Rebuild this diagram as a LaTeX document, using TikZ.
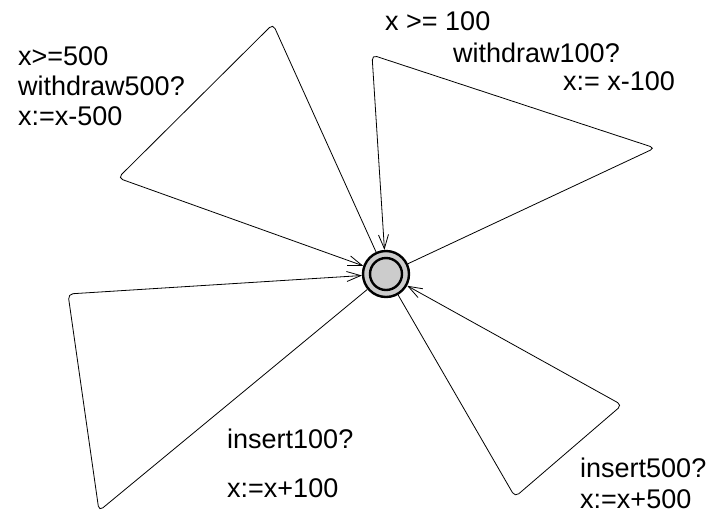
\documentclass[tikz,border=0pt]{standalone}
\usepackage{fontspec}
\setmainfont{Liberation Sans}
\usetikzlibrary{arrows.meta}

\tikzset{
  loc/.style={circle, draw, line width=2.4pt, fill=black!20, minimum size=46pt, inner sep=0pt},
  locinit/.style={circle, draw, line width=2.4pt, fill=black!20, minimum size=32pt, inner sep=0pt},
  selfloop/.style={line width=0.8pt, rounded corners=5pt, -{Straight Barb[length=14pt,width=10pt]}},
  lbl/.style={anchor=base west, inner sep=0pt, font=\fontsize{27}{31}\selectfont},
}

\begin{document}
\begin{tikzpicture}[x=1pt, y=-1pt]
		\useasboundingbox (0,0) rectangle (714,515);

		\node[loc] (s0) at (386,274) {};
		\node[locinit] (s0init) at (s0) {};

		\coordinate (w5a) at (273,24);
		\coordinate (w5b) at (118,178);
		\coordinate (w1a) at (655,148);
		\coordinate (w1b) at (372,55);
		\coordinate (i1a) at (99,511);
		\coordinate (i1b) at (68,294);
		\coordinate (i5a) at (515,497);
		\coordinate (i5b) at (622,405);

		\draw[selfloop] (s0) -- (w5a) -- (w5b) -- (s0);
		\draw[selfloop] (s0) -- (w1a) -- (w1b) -- (s0);
		\draw[selfloop] (s0) -- (i1a) -- (i1b) -- (s0);
		\draw[selfloop] (s0) -- (i5a) -- (i5b) -- (s0);

		\node[lbl] (guard5) at (18,65) {x>=500};
		\node[lbl] (sync5) at (18,95) {withdraw500?};
		\node[lbl] (upd5) at (18,125) {x:=x-500};

		\node[lbl] (guard1) at (385,30) {x >= 100};
		\node[lbl] (sync1) at (453,62) {withdraw100?};
		\node[lbl] (upd1) at (563,90) {x:= x-100};

		\node[lbl] (insync1) at (227,448) {insert100?};
		\node[lbl] (inupd1) at (227,497) {x:=x+100};

		\node[lbl] (insync5) at (580,477) {insert500?};
		\node[lbl] (inupd5) at (580,508) {x:=x+500};
	\end{tikzpicture}
\end{document}
